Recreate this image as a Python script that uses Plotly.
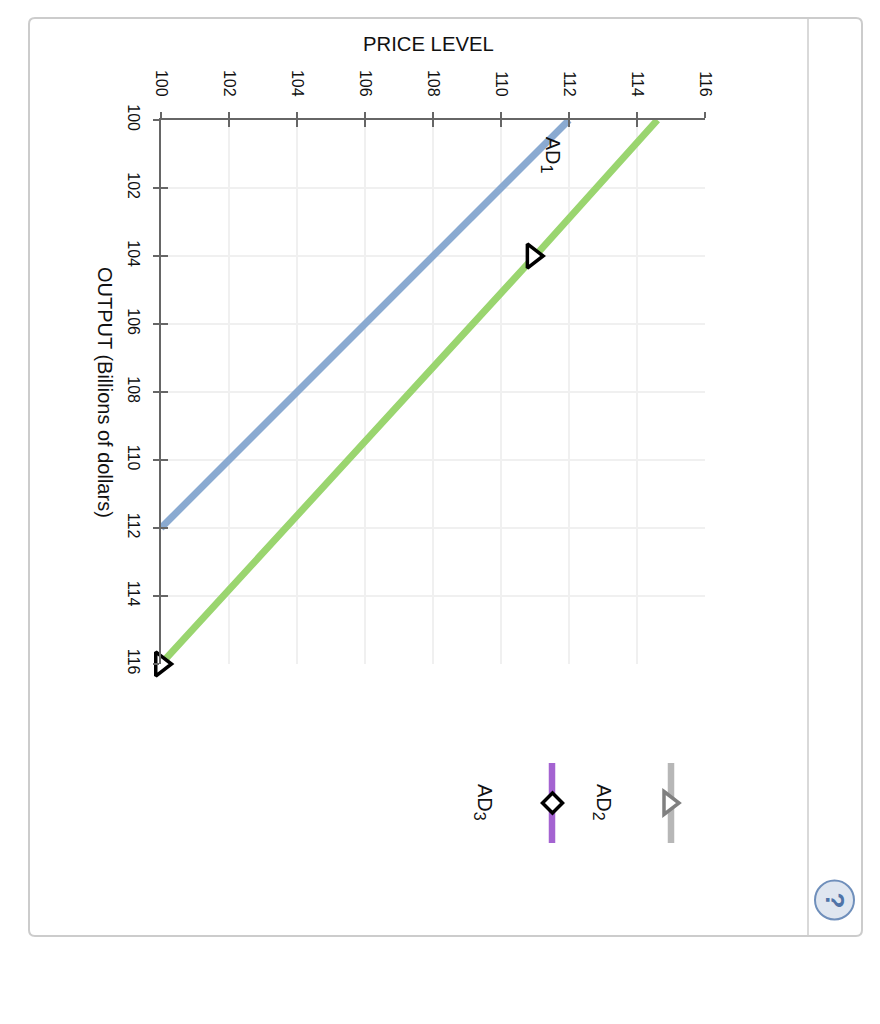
import plotly.graph_objects as go

# Chart values
tick_vals = [100, 102, 104, 106, 108, 110, 112, 114, 116]
ad1_price = [112, 100]
ad1_output = [100, 112]
ad2_price = [114.6, 111, 100]
ad2_output = [100, 104, 116]
ad2_marker_price = [110.93, 100]
ad2_marker_output = [104, 116]

FONT = "Liberation Sans"
W, H = 864, 1000
AXIS = "#666666"
SUB = '<sub><span style="font-size:16px">%s</span></sub>'


# page has a body margin of 8px, so screen pixels are shifted
def px(x):
    return (x - 8) / W


def py(y):
    return 1 - (y - 8) / H


fig = go.Figure()

# empty trace so the base axes (grid, outer ticks) get drawn
fig.add_trace(go.Scatter(x=[], y=[], xaxis="x", yaxis="y", showlegend=False))

fig.add_trace(go.Scatter(x=ad1_price, y=ad1_output, mode="lines", xaxis="x2", yaxis="y2",
                         line=dict(color="#8aaad1", width=7), cliponaxis=False, showlegend=False))
fig.add_trace(go.Scatter(x=ad2_price, y=ad2_output, mode="lines", xaxis="x2", yaxis="y2",
                         line=dict(color="#9ad56f", width=7), cliponaxis=False, showlegend=False))
fig.add_trace(go.Scatter(x=ad2_marker_price, y=ad2_marker_output, mode="markers", xaxis="x2", yaxis="y2",
                         marker=dict(symbol="triangle-right", size=21, color="white",
                                     line=dict(color="black", width=3.5)),
                         cliponaxis=False, showlegend=False))

base_x = dict(domain=[px(161), px(705)], range=[100, 116], tickvals=tick_vals, side="top", anchor="y")
base_y = dict(domain=[py(664), py(120)], range=[116, 100], tickvals=tick_vals, side="left", anchor="x")

fig.update_layout(
    width=W,
    height=H,
    margin=dict(l=0, r=0, t=0, b=0, autoexpand=False),
    paper_bgcolor="white",
    plot_bgcolor="white",
    font=dict(family=FONT, size=16, color="#111111"),
    xaxis=dict(**base_x, showgrid=True, gridcolor="#f0f0f0", gridwidth=1.5, zeroline=False,
               showline=True, linecolor=AXIS, linewidth=1.5,
               ticks="outside", ticklen=6, tickwidth=1.5, tickcolor=AXIS,
               tickangle=90, ticklabelstandoff=10, tickfont=dict(size=16)),
    yaxis=dict(**base_y, showgrid=True, gridcolor="#f0f0f0", gridwidth=1.5, zeroline=False,
               showline=True, linecolor=AXIS, linewidth=1.5,
               ticks="outside", ticklen=6, tickwidth=1.5, tickcolor=AXIS,
               tickangle=90, ticklabelstandoff=6, tickfont=dict(size=16)),
    # overlay axes only add the inner half of each tick
    xaxis2=dict(**{**base_x, "anchor": "y2"}, overlaying="x", showgrid=False, zeroline=False, showline=False,
                ticks="inside", ticklen=7, tickwidth=1.5, tickcolor=AXIS, showticklabels=False),
    yaxis2=dict(**{**base_y, "anchor": "x2"}, overlaying="y", showgrid=False, zeroline=False, showline=False,
                ticks="inside", ticklen=7, tickwidth=1.5, tickcolor=AXIS, showticklabels=False),
)

# panel frame, divider, palette bars, help button
shapes = [
    dict(type="path", xref="paper", yref="paper",
         path=f"M {px(35)} {py(18)} L {px(856)} {py(18)} Q {px(862)} {py(18)} {px(862)} {py(24)} "
              f"L {px(862)} {py(930)} Q {px(862)} {py(936)} {px(856)} {py(936)} "
              f"L {px(35)} {py(936)} Q {px(29)} {py(936)} {px(29)} {py(930)} "
              f"L {px(29)} {py(24)} Q {px(29)} {py(18)} {px(35)} {py(18)} Z",
         line=dict(color="#cccccc", width=2), layer="below"),
    dict(type="line", xref="paper", yref="paper", x0=px(808), x1=px(808), y0=py(18), y1=py(936),
         line=dict(color="#cccccc", width=1.5), layer="below"),
    dict(type="line", xref="paper", yref="paper", x0=px(671), x1=px(671), y0=py(763), y1=py(843),
         line=dict(color="#b7b7b7", width=6.5)),
    dict(type="line", xref="paper", yref="paper", x0=px(552), x1=px(552), y0=py(763), y1=py(843),
         line=dict(color="#a463d1", width=6.5)),
    dict(type="path", xref="paper", yref="paper", xsizemode="pixel", ysizemode="pixel",
         xanchor=px(667), yanchor=py(803), path="M -3 11.5 L 12 0 L -3 -11.5 Z",
         fillcolor="white", line=dict(color="#808080", width=3.5)),
    dict(type="path", xref="paper", yref="paper", xsizemode="pixel", ysizemode="pixel",
         xanchor=px(552.5), yanchor=py(803), path="M -10 0 L 0 10 L 10 0 L 0 -10 Z",
         fillcolor="white", line=dict(color="black", width=3.5)),
    dict(type="circle", xref="paper", yref="paper", xsizemode="pixel", ysizemode="pixel",
         xanchor=px(834.5), yanchor=py(900), x0=-19.5, x1=19.5, y0=-19.5, y1=19.5,
         fillcolor="#dfe6f0", line=dict(color="#6f8fbb", width=2)),
]
fig.update_layout(shapes=shapes)


def label(text, x, y, size, angle=90, color="#111111", xref="paper", yref="paper"):
    return dict(text=text, xref=xref, yref=yref, x=x, y=y, showarrow=False, textangle=angle,
                xanchor="center", yanchor="middle", font=dict(size=size, color=color))


annotations = [
    label("PRICE LEVEL", px(428.5), py(44), 20.3, angle=0),
    label("OUTPUT (Billions of dollars)", px(105), py(392), 20),
    label("AD" + SUB % "1", 111.47, 101.05, 20, xref="x2", yref="y2"),
    label("AD" + SUB % "2", px(603), py(802), 20),
    label("AD" + SUB % "3", px(484), py(802), 20),
    label("<b>?</b>", px(834.5), py(900), 26, color="#4f74a8"),
]
fig.update_layout(annotations=annotations)

fig.write_html("out.html")
